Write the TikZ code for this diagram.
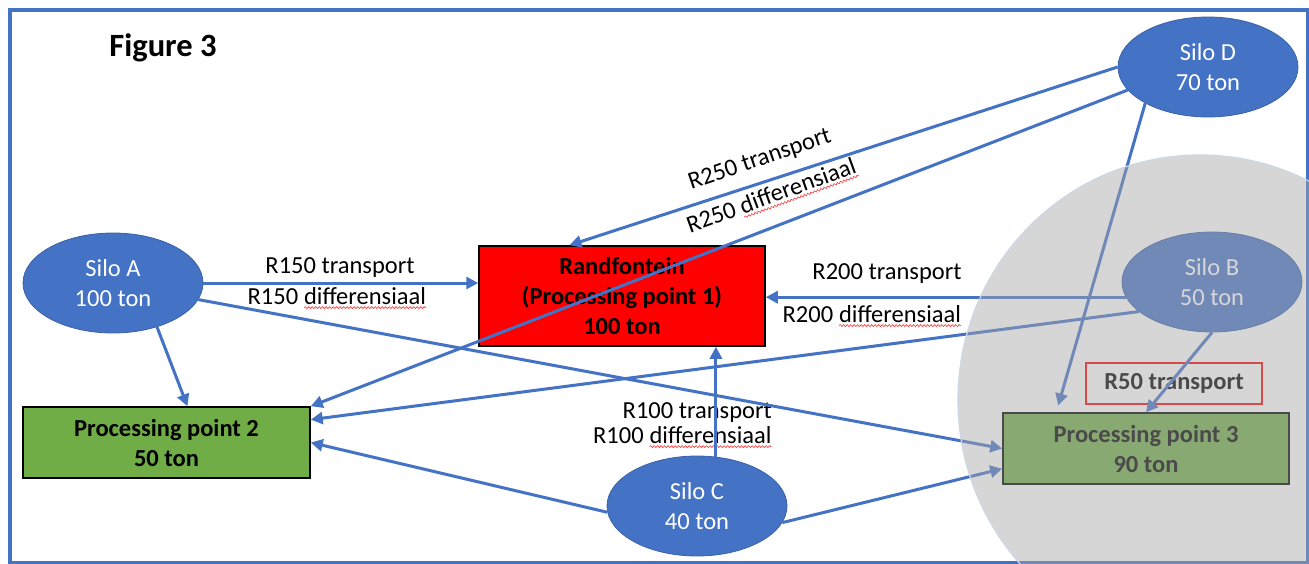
\documentclass[tikz,border=0pt]{standalone}
\usepackage{fontspec}
\setmainfont{Carlito}
\usetikzlibrary{shapes.geometric,arrows.meta,calc,decorations.pathmorphing}
\definecolor{obl}{HTML}{4472C4}
\definecolor{ogr}{HTML}{70AD47}
\definecolor{hlg}{RGB}{168,165,168}
\definecolor{hle}{RGB}{205,214,230}
\newcommand\sqg[1]{\tikz[baseline=(sqw.base)]{\node[inner sep=0pt,outer sep=0pt] (sqw) {#1};\draw[red!80,line width=0.6pt,decorate,decoration={snake,amplitude=1pt,segment length=3.5pt}] ([yshift=-3.5pt]sqw.base west) -- ([yshift=-3.5pt]sqw.base east);}}
\begin{document}
\begin{tikzpicture}[x=1pt,y=-1pt,
  every node/.style={font=\fontsize{24.5}{30}\selectfont},
  silo/.style={ellipse,fill=obl,draw=obl!85!black,line width=0.8pt,minimum width=180pt,minimum height=100pt,inner sep=0pt,text=white,align=center},
  boxA/.style={rectangle,draw=black,line width=1.5pt,align=center,font=\fontsize{24.5}{30}\selectfont\bfseries,inner sep=0pt},
  lbl/.style={inner sep=0pt},
  conn/.style={draw=obl,line width=3pt,-{Triangle[length=12pt,width=12pt]}}
]
\useasboundingbox (0,0) rectangle (1309,564);
\clip (0,0) rectangle (1309,564);
\fill[white] (0,0) rectangle (1309,564);
\draw[obl,line width=3.5pt] (10,10) rectangle (1308,563);

\node[font=\fontsize{32.5}{36}\selectfont\bfseries] (fig) at (163,48) {Figure 3};

\node[silo] (A) at (113,283) {Silo A\\100 ton};
\node[silo] (D) at (1208,67) {Silo D\\70 ton};
\node[silo] (B) at (1212,282) {Silo B\\50 ton};
\node[silo] (C) at (697,506) {Silo C\\40 ton};

\node[boxA,fill=red,minimum width=286pt,minimum height=100pt] (R) at (622,296) {Randfontein\\(Processing point 1)\\100 ton};
\node[boxA,fill=ogr,minimum width=287pt,minimum height=71pt] (P2) at (166.5,442.5) {Processing point 2\\50 ton};
\node[boxA,fill=ogr,minimum width=286pt,minimum height=71pt] (P3) at (1146,448.5) {Processing point 3\\90 ton};
\node[draw=red,line width=1.5pt,minimum width=176pt,minimum height=41pt,inner sep=0pt,font=\fontsize{24.5}{30}\selectfont\bfseries] (R50) at (1174,383.5) {R50 transport\hspace{12pt}};

\node[lbl] (l150t) at (340,268) {R150 transport};
\node[lbl] (l150d) at (337,298) {R150 \sqg{differensiaal}};
\node[lbl] (l200t) at (887,274) {R200 transport};
\node[lbl] (l200d) at (872,316) {R200 \sqg{differensiaal}};
\node[lbl,anchor=east] (l100t) at (772,413) {R100 transport};
\node[lbl,anchor=east] (l100d) at (772,437) {R100 \sqg{differensiaal}};
\node[lbl,rotate=19] (l250t) at (760,160) {R250 transport};
\node[lbl,rotate=20] (l250d) at (772,197) {R250 \sqg{differensiaal}};

\draw[conn] (A.east) -- (A.east -| R.west);
\draw[conn] (A.-11) -- (P3.west);
\draw[conn] (A.-45) -- (P2.60);
\draw[conn] (D.west) -- (R.136);
\draw[conn] (D.196) -- (P2.north east);
\draw[conn,shorten >=7pt] (D.210) -- (P3.158);
\draw[conn] (B.190) -- (B.190 -| R.east);
\draw[conn] (B.202) -- (P2.9);
\draw[conn] (B.south) -- (P3.north);
\draw[conn] (C.69) -- (C.69 |- R.south);
\draw[conn] (C.184) -- (P2.east);
\draw[conn] (C.-11) -- (P3.188);

\node[ellipse,minimum width=484pt,minimum height=490pt,inner sep=0pt,fill=hlg,fill opacity=.45,draw=hle,line width=1.2pt] (hl) at (1200,400) {};
\end{tikzpicture}
\end{document}
